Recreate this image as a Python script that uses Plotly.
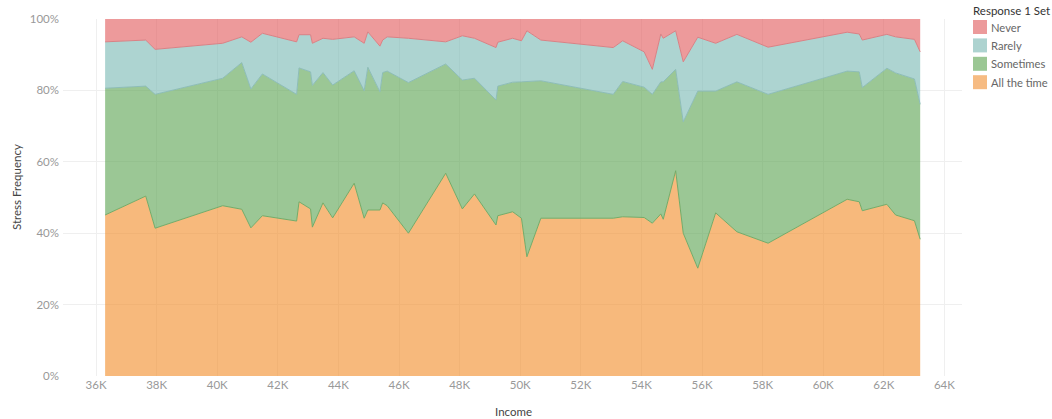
import plotly.graph_objects as go

# Income values (x) where the stacked areas have vertices
income = [36300, 37640, 37950, 40180, 40810, 41110, 41490, 42620, 42700, 43080,
          43140, 43490, 43810, 44520, 44850, 44970, 45370, 45460, 45610, 46310,
          47540, 48090, 48490, 49200, 49260, 49750, 50040, 50220, 50680, 53070,
          53380, 54090, 54360, 54640, 54720, 55130, 55380, 55860, 56450, 57150,
          58180, 60790, 61190, 61290, 62100, 62390, 63010, 63200]

# cumulative boundaries (percent)
cum_all = [45.1, 50.4, 41.4, 47.7, 46.7, 41.5, 44.9, 43.4, 48.8, 46.8,
           41.7, 48.5, 44.3, 54.0, 44.2, 46.5, 46.5, 48.5, 47.7, 40.0,
           56.8, 46.8, 51.0, 42.3, 44.9, 46.0, 44.2, 33.4, 44.2, 44.2,
           44.6, 44.4, 42.8, 45.4, 43.9, 57.5, 40.0, 30.2, 45.7, 40.4,
           37.2, 49.5, 48.8, 46.3, 48.1, 45.1, 43.5, 38.3]
cum_some = [80.6, 81.2, 78.9, 83.4, 87.8, 80.4, 84.6, 78.9, 86.3, 85.2,
            81.4, 85.0, 81.5, 85.5, 79.9, 86.5, 79.6, 85.0, 85.4, 82.2,
            87.4, 82.9, 83.4, 77.3, 81.2, 82.3, 82.4, 82.5, 82.7, 78.9,
            82.5, 80.9, 78.9, 82.4, 82.4, 85.9, 71.2, 79.8, 79.8, 82.4,
            78.9, 85.4, 85.2, 80.8, 86.2, 84.9, 83.2, 76.1]
cum_rare = [93.6, 94.1, 91.5, 93.2, 95.0, 93.5, 96.0, 93.6, 95.6, 95.6,
            93.2, 94.6, 94.3, 95.0, 93.2, 96.4, 92.4, 94.1, 95.0, 94.6,
            93.6, 95.3, 94.6, 92.0, 93.5, 94.6, 93.9, 96.7, 94.1, 92.0,
            93.9, 90.8, 85.9, 95.8, 94.6, 96.7, 88.0, 94.9, 93.2, 95.7,
            92.1, 96.3, 95.8, 94.1, 95.7, 95.0, 94.3, 90.8]

# per-category shares
all_the_time = cum_all
sometimes = [round(s - a, 1) for s, a in zip(cum_some, cum_all)]
rarely = [round(r - s, 1) for r, s in zip(cum_rare, cum_some)]
never = [round(100 - r, 1) for r in cum_rare]

categories = ["Never", "Rarely", "Sometimes", "All the time"]
y_ticks = [0, 20, 40, 60, 80, 100]
x_ticks = list(range(36000, 64001, 2000))

fill_colors = {
    "All the time": "rgba(242,142,43,0.62)",
    "Sometimes": "rgba(89,161,79,0.60)",
    "Rarely": "rgba(118,183,178,0.60)",
    "Never": "rgba(225,87,89,0.60)",
}
legend_colors = {
    "Never": "#EC9A9B",
    "Rarely": "#ADD3D0",
    "Sometimes": "#9BC794",
    "All the time": "#F6BB82",
}
edge_colors = {
    "All the time": "#74AB68",
    "Sometimes": "#8DBDB8",
    "Rarely": "#D98185",
    "Never": "rgba(0,0,0,0)",
}
series = {
    "All the time": all_the_time,
    "Sometimes": sometimes,
    "Rarely": rarely,
    "Never": never,
}

W, H = 1052, 419
ML, MR, MT, MB = 63, 90, 19, 43
PW, PH = W - ML - MR, H - MT - MB


def px_x(px):
    return (px - ML) / PW


def px_y(py):
    return (H - MB - py) / PH


fig = go.Figure()
for name in ["All the time", "Sometimes", "Rarely", "Never"]:
    fig.add_trace(go.Scatter(
        x=income, y=series[name], name=name, stackgroup="resp",
        mode="lines", line=dict(color=edge_colors[name], width=1),
        fillcolor=fill_colors[name], showlegend=False,
        hovertemplate="%{x}<br>" + name + ": %{y:.1f}%<extra></extra>",
    ))

# legend drawn as swatches + real text
shapes = []
annotations = [dict(
    text="Response 1 Set", xref="paper", yref="paper",
    x=px_x(971), y=px_y(10), xanchor="left", yanchor="middle",
    showarrow=False, font=dict(size=11.5, color="#333"),
)]
for i, name in enumerate(categories):
    cy = 27 + i * 18.4
    shapes.append(dict(
        type="rect", xref="paper", yref="paper",
        x0=px_x(973), x1=px_x(987), y0=px_y(cy - 7), y1=px_y(cy + 7),
        fillcolor=legend_colors[name], line=dict(width=0),
    ))
    annotations.append(dict(
        text=name, xref="paper", yref="paper",
        x=px_x(989), y=px_y(cy), xanchor="left", yanchor="middle",
        showarrow=False, font=dict(size=11.2, color="#666"),
    ))
# axis titles
annotations.append(dict(
    text="Stress Frequency", xref="paper", yref="paper",
    x=px_x(16), y=px_y(187), textangle=-90, xanchor="center", yanchor="middle",
    showarrow=False, font=dict(size=11.5, color="#444"),
))
annotations.append(dict(
    text="Income", xref="paper", yref="paper",
    x=px_x(513), y=px_y(411), xanchor="center", yanchor="middle",
    showarrow=False, font=dict(size=11.5, color="#444"),
))

grid = "#EFEFEF"
fig.update_layout(
    width=W, height=H,
    margin=dict(l=ML, r=MR, t=MT, b=MB, autoexpand=False),
    paper_bgcolor="white", plot_bgcolor="white",
    font=dict(family="Lato, 'Open Sans', sans-serif", size=11, color="#666"),
    showlegend=False,
    shapes=shapes, annotations=annotations,
    xaxis=dict(
        range=[34910, 64580], tickvals=x_ticks,
        ticktext=[f"{v // 1000}K" for v in x_ticks],
        showgrid=True, gridcolor=grid, gridwidth=1, zeroline=False,
        showline=False, ticks="", tickfont=dict(size=11.5, color="#999"),
        automargin=False,
    ),
    yaxis=dict(
        range=[0, 100], tickvals=y_ticks,
        ticktext=[f"{v}%" for v in y_ticks],
        showgrid=True, gridcolor=grid, gridwidth=1, zeroline=False,
        showline=False, ticks="", tickfont=dict(size=11.5, color="#999"),
        ticklabelstandoff=3, automargin=False,
    ),
)

fig.write_html(
    "out.html",
    config={"displayModeBar": False},
    post_script="document.body.style.margin='0';document.body.style.overflow='hidden';",
)
